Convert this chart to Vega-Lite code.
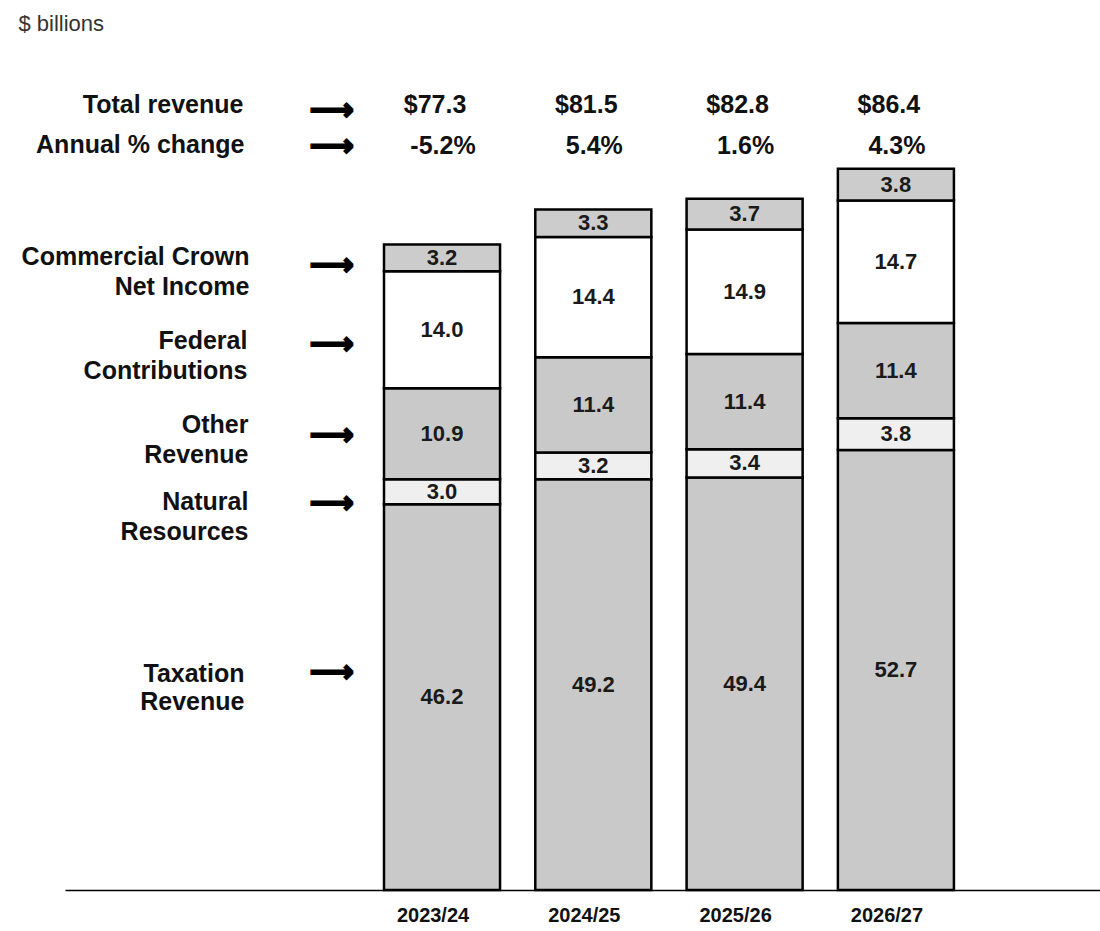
{
  "$schema": "https://vega.github.io/schema/vega-lite/v6.json",
  "autosize": {"type": "none"},
  "width": 1035,
  "height": 890,
  "padding": {"left": 65, "top": 0, "right": 0, "bottom": 41},
  "background": "white",
  "config": {"view": {"stroke": null}, "font": "Liberation Sans"},
  "datasets": {
    "revenue": [
      {"year": "2023/24", "segment": "Taxation Revenue", "order": 1, "value": 46.2},
      {"year": "2023/24", "segment": "Natural Resources", "order": 2, "value": 3.0},
      {"year": "2023/24", "segment": "Other Revenue", "order": 3, "value": 10.9},
      {"year": "2023/24", "segment": "Federal Contributions", "order": 4, "value": 14.0},
      {"year": "2023/24", "segment": "Commercial Crown Net Income", "order": 5, "value": 3.2},
      {"year": "2024/25", "segment": "Taxation Revenue", "order": 1, "value": 49.2},
      {"year": "2024/25", "segment": "Natural Resources", "order": 2, "value": 3.2},
      {"year": "2024/25", "segment": "Other Revenue", "order": 3, "value": 11.4},
      {"year": "2024/25", "segment": "Federal Contributions", "order": 4, "value": 14.4},
      {"year": "2024/25", "segment": "Commercial Crown Net Income", "order": 5, "value": 3.3},
      {"year": "2025/26", "segment": "Taxation Revenue", "order": 1, "value": 49.4},
      {"year": "2025/26", "segment": "Natural Resources", "order": 2, "value": 3.4},
      {"year": "2025/26", "segment": "Other Revenue", "order": 3, "value": 11.4},
      {"year": "2025/26", "segment": "Federal Contributions", "order": 4, "value": 14.9},
      {"year": "2025/26", "segment": "Commercial Crown Net Income", "order": 5, "value": 3.7},
      {"year": "2026/27", "segment": "Taxation Revenue", "order": 1, "value": 52.7},
      {"year": "2026/27", "segment": "Natural Resources", "order": 2, "value": 3.8},
      {"year": "2026/27", "segment": "Other Revenue", "order": 3, "value": 11.4},
      {"year": "2026/27", "segment": "Federal Contributions", "order": 4, "value": 14.7},
      {"year": "2026/27", "segment": "Commercial Crown Net Income", "order": 5, "value": 3.8}
    ],
    "totals": [
      {"year": "2023/24", "total": "$77.3", "change": "-5.2%"},
      {"year": "2024/25", "total": "$81.5", "change": "5.4%"},
      {"year": "2025/26", "total": "$82.8", "change": "1.6%"},
      {"year": "2026/27", "total": "$86.4", "change": "4.3%"}
    ],
    "blank": [{}]
  },
  "layer": [
    {
      "data": {"name": "revenue"},
      "mark": {"type": "bar", "stroke": "#000000", "strokeWidth": 2.5},
      "encoding": {
        "x": {
          "field": "year", "type": "nominal",
          "scale": {"domain": ["lab", "arr", "2023/24", "2024/25", "2025/26", "2026/27"], "paddingInner": 0.233, "paddingOuter": 0.537, "align": 0.101},
          "axis": {"title": null, "ticks": false, "domainColor": "#000000", "domainWidth": 1.5, "labelAngle": 0, "labelFont": "Liberation Sans", "labelFontWeight": "bold", "labelFontSize": 20, "labelColor": "#111111", "labelPadding": 15, "labelOffset": -9, "labelExpr": "indexof(datum.value, '/') < 0 ? '' : datum.value"}
        },
        "y": {"field": "value", "type": "quantitative", "stack": "zero", "scale": {"domain": [0, 106.6], "nice": false}, "axis": null},
        "order": {"field": "order", "type": "quantitative"},
        "color": {"field": "segment", "type": "nominal", "legend": null,
          "scale": {"domain": ["Taxation Revenue", "Natural Resources", "Other Revenue", "Federal Contributions", "Commercial Crown Net Income"],
                    "range": ["#c9c9c9", "#efefef", "#c9c9c9", "#ffffff", "#cccccc"]}}
      }
    },
    {
      "data": {"name": "revenue"},
      "mark": {"type": "text", "font": "Liberation Sans", "fontWeight": "bold", "fontSize": 22, "color": "#1a1a1a", "baseline": "middle"},
      "encoding": {
        "x": {"field": "year", "type": "nominal"},
        "y": {"field": "value", "type": "quantitative", "stack": "zero", "bandPosition": 0.5},
        "order": {"field": "order", "type": "quantitative"},
        "text": {"field": "value", "type": "quantitative", "format": ".1f"}
      }
    },
    {
      "data": {"name": "totals"},
      "mark": {"type": "text", "font": "Liberation Sans", "fontWeight": "bold", "fontSize": 25, "color": "#111111", "baseline": "middle", "dx": -7},
      "encoding": {
        "x": {"field": "year", "type": "nominal"},
        "y": {"datum": 94.0},
        "text": {"field": "total"}
      }
    },
    {
      "data": {"name": "totals"},
      "mark": {"type": "text", "font": "Liberation Sans", "fontWeight": "bold", "fontSize": 25, "color": "#111111", "baseline": "middle", "dx": 1},
      "encoding": {
        "x": {"field": "year", "type": "nominal"},
        "y": {"datum": 89.1},
        "text": {"field": "change"}
      }
    },
    {
      "data": {"name": "blank"},
      "mark": {"type": "text", "text": "$ billions", "font": "Liberation Sans", "fontSize": 22, "color": "#333333", "align": "left", "baseline": "middle", "dx": -121},
      "encoding": {"x": {"datum": "lab"}, "y": {"datum": 103.7}}
    },
    {
      "data": {"name": "blank"},
      "mark": {"type": "text", "text": "Total revenue", "font": "Liberation Sans", "fontWeight": "bold", "fontSize": 25, "color": "#111111", "align": "right", "baseline": "middle", "dx": 104},
      "encoding": {"x": {"datum": "lab"}, "y": {"datum": 94.0}}
    },
    {
      "data": {"name": "blank"},
      "mark": {"type": "text", "text": "Annual % change", "font": "Liberation Sans", "fontWeight": "bold", "fontSize": 25, "color": "#111111", "align": "right", "baseline": "middle", "dx": 105},
      "encoding": {"x": {"datum": "lab"}, "y": {"datum": 89.2}}
    },
    {
      "data": {"name": "blank"},
      "mark": {"type": "text", "text": ["Commercial Crown", "Net Income"], "lineHeight": 30, "font": "Liberation Sans", "fontWeight": "bold", "fontSize": 25, "color": "#111111", "align": "right", "baseline": "middle", "dx": 110},
      "encoding": {"x": {"datum": "lab"}, "y": {"datum": 75.8}}
    },
    {
      "data": {"name": "blank"},
      "mark": {"type": "text", "text": ["Federal", "Contributions"], "lineHeight": 30, "font": "Liberation Sans", "fontWeight": "bold", "fontSize": 25, "color": "#111111", "align": "right", "baseline": "middle", "dx": 108},
      "encoding": {"x": {"datum": "lab"}, "y": {"datum": 65.7}}
    },
    {
      "data": {"name": "blank"},
      "mark": {"type": "text", "text": ["Other", "Revenue"], "lineHeight": 30, "font": "Liberation Sans", "fontWeight": "bold", "fontSize": 25, "color": "#111111", "align": "right", "baseline": "middle", "dx": 109},
      "encoding": {"x": {"datum": "lab"}, "y": {"datum": 55.7}}
    },
    {
      "data": {"name": "blank"},
      "mark": {"type": "text", "text": ["Natural", "Resources"], "lineHeight": 30, "font": "Liberation Sans", "fontWeight": "bold", "fontSize": 25, "color": "#111111", "align": "right", "baseline": "middle", "dx": 109},
      "encoding": {"x": {"datum": "lab"}, "y": {"datum": 46.5}}
    },
    {
      "data": {"name": "blank"},
      "mark": {"type": "text", "text": ["Taxation", "Revenue"], "lineHeight": 28, "font": "Liberation Sans", "fontWeight": "bold", "fontSize": 25, "color": "#111111", "align": "right", "baseline": "middle", "dx": 105},
      "encoding": {"x": {"datum": "lab"}, "y": {"datum": 25.9}}
    },
    {
      "data": {"name": "blank"},
      "mark": {"type": "text", "text": "⟶", "font": "DejaVu Sans", "fontWeight": "bold", "fontSize": 31, "color": "#000000", "stroke": "#000000", "strokeWidth": 1.8, "baseline": "middle", "dx": 41},
      "encoding": {"x": {"datum": "arr"}, "y": {"datum": 93.3}}
    },
    {
      "data": {"name": "blank"},
      "mark": {"type": "text", "text": "⟶", "font": "DejaVu Sans", "fontWeight": "bold", "fontSize": 31, "color": "#000000", "stroke": "#000000", "strokeWidth": 1.8, "baseline": "middle", "dx": 41},
      "encoding": {"x": {"datum": "arr"}, "y": {"datum": 89.0}}
    },
    {
      "data": {"name": "blank"},
      "mark": {"type": "text", "text": "⟶", "font": "DejaVu Sans", "fontWeight": "bold", "fontSize": 31, "color": "#000000", "stroke": "#000000", "strokeWidth": 1.8, "baseline": "middle", "dx": 41},
      "encoding": {"x": {"datum": "arr"}, "y": {"datum": 74.7}}
    },
    {
      "data": {"name": "blank"},
      "mark": {"type": "text", "text": "⟶", "font": "DejaVu Sans", "fontWeight": "bold", "fontSize": 31, "color": "#000000", "stroke": "#000000", "strokeWidth": 1.8, "baseline": "middle", "dx": 41},
      "encoding": {"x": {"datum": "arr"}, "y": {"datum": 65.3}}
    },
    {
      "data": {"name": "blank"},
      "mark": {"type": "text", "text": "⟶", "font": "DejaVu Sans", "fontWeight": "bold", "fontSize": 31, "color": "#000000", "stroke": "#000000", "strokeWidth": 1.8, "baseline": "middle", "dx": 41},
      "encoding": {"x": {"datum": "arr"}, "y": {"datum": 54.4}}
    },
    {
      "data": {"name": "blank"},
      "mark": {"type": "text", "text": "⟶", "font": "DejaVu Sans", "fontWeight": "bold", "fontSize": 31, "color": "#000000", "stroke": "#000000", "strokeWidth": 1.8, "baseline": "middle", "dx": 41},
      "encoding": {"x": {"datum": "arr"}, "y": {"datum": 46.2}}
    },
    {
      "data": {"name": "blank"},
      "mark": {"type": "text", "text": "⟶", "font": "DejaVu Sans", "fontWeight": "bold", "fontSize": 31, "color": "#000000", "stroke": "#000000", "strokeWidth": 1.8, "baseline": "middle", "dx": 41},
      "encoding": {"x": {"datum": "arr"}, "y": {"datum": 26.0}}
    }
  ]
}
